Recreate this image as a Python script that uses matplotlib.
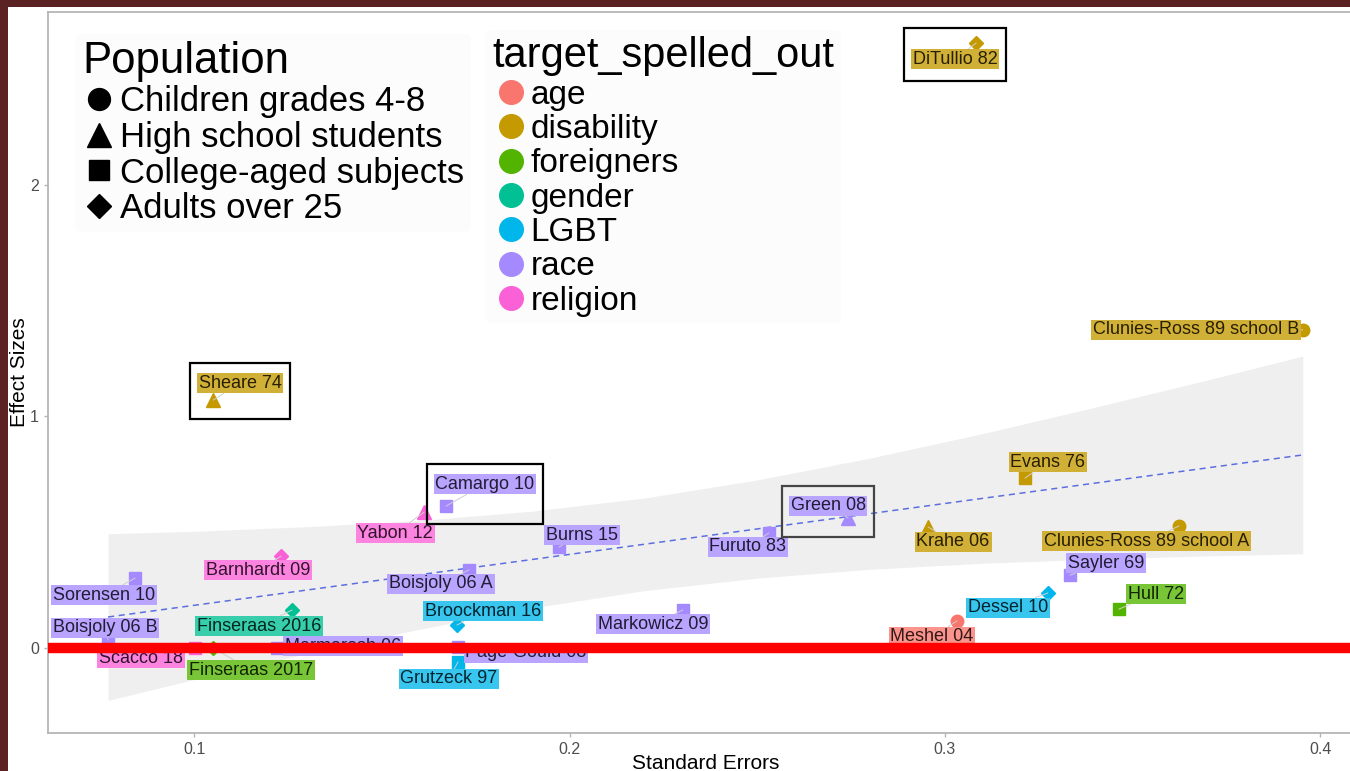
import matplotlib.pyplot as plt
from matplotlib.lines import Line2D
from matplotlib.patches import Rectangle
from matplotlib.transforms import IdentityTransform
from matplotlib.colors import to_rgb
import numpy as np

plt.rcParams['font.family'] = ['Liberation Sans', 'DejaVu Sans']

# study data
studies = ["DiTullio 82", "Clunies-Ross 89 school B", "Sheare 74", "Camargo 10",
           "Yabon 12", "Burns 15", "Boisjoly 06 A", "Barnhardt 09", "Sorensen 10",
           "Finseraas 2016", "Boisjoly 06 B", "Scacco 18", "Finseraas 2017",
           "Marmarosh 06", "Page-Gould 08", "Broockman 16", "Grutzeck 97",
           "Markowicz 09", "Furuto 83", "Green 08", "Evans 76", "Krahe 06",
           "Clunies-Ross 89 school A", "Sayler 69", "Dessel 10", "Hull 72", "Meshel 04"]
std_err = [0.3083, 0.3953, 0.1051, 0.1671, 0.1613, 0.1972, 0.1732, 0.1232, 0.0843,
           0.1261, 0.0771, 0.1003, 0.1051, 0.1221, 0.1703, 0.1700, 0.1703, 0.2302,
           0.2531, 0.2742, 0.3213, 0.2955, 0.3623, 0.3333, 0.3274, 0.3463, 0.3032]
effect = [2.613, 1.374, 1.071, 0.613, 0.587, 0.436, 0.337, 0.397, 0.302,
          0.164, 0.035, 0.0, 0.0, 0.0, 0.005, 0.099, -0.060, 0.164,
          0.497, 0.562, 0.734, 0.523, 0.527, 0.315, 0.238, 0.168, 0.117]
target = ["disability", "disability", "disability", "race", "religion", "race", "race",
          "religion", "race", "gender", "race", "religion", "foreigners", "race", "race",
          "LGBT", "LGBT", "race", "race", "race", "disability", "disability",
          "disability", "race", "LGBT", "foreigners", "age"]
population = ["Adults over 25", "Children grades 4-8", "High school students",
              "College-aged subjects", "High school students", "College-aged subjects",
              "College-aged subjects", "Adults over 25", "College-aged subjects",
              "Adults over 25", "College-aged subjects", "College-aged subjects",
              "Adults over 25", "College-aged subjects", "College-aged subjects",
              "Adults over 25", "College-aged subjects", "College-aged subjects",
              "College-aged subjects", "High school students", "College-aged subjects",
              "High school students", "Children grades 4-8", "College-aged subjects",
              "Adults over 25", "College-aged subjects", "Children grades 4-8"]
highlighted = ["DiTullio 82", "Sheare 74", "Camargo 10", "Green 08"]

# fitted line and its confidence band
fit_x = [0.0771, 0.3953]
fit_y = [0.134, 0.834]
band_x = [0.0771, 0.10, 0.13, 0.16, 0.19, 0.22, 0.25, 0.28, 0.31, 0.34, 0.37, 0.3953]
band_lo = [-0.226, -0.136, -0.024, 0.081, 0.173, 0.248, 0.302, 0.340, 0.366, 0.384, 0.398, 0.407]
band_hi = [0.494, 0.504, 0.524, 0.551, 0.591, 0.648, 0.726, 0.820, 0.926, 1.040, 1.158, 1.261]

targets = ["age", "disability", "foreigners", "gender", "LGBT", "race", "religion"]
target_colors = ["#F8766D", "#C49A00", "#53B400", "#00C094", "#00B6EB", "#A58AFF", "#FB61D7"]
pops = ["Children grades 4-8", "High school students", "College-aged subjects", "Adults over 25"]
pop_markers = ["o", "^", "s", "D"]
pop_sizes = [9, 10, 8.5, 7]

# label offsets from the point, pixels
label_off = {
    "DiTullio 82": (-21, -16), "Clunies-Ross 89 school B": (-107, 0), "Sheare 74": (27, 17),
    "Camargo 10": (39, 22), "Yabon 12": (-29, -21), "Burns 15": (23, 12),
    "Boisjoly 06 A": (-28, -14), "Barnhardt 09": (-23, -14), "Sorensen 10": (-31, -17),
    "Finseraas 2016": (-33, -16), "Boisjoly 06 B": (-3, 12), "Scacco 18": (-54, -10),
    "Finseraas 2017": (38, -22), "Marmarosh 06": (66, 2), "Page-Gould 08": (68, -6),
    "Broockman 16": (26, 14), "Grutzeck 97": (-9, -17), "Markowicz 09": (-30, -14),
    "Furuto 83": (-21, -14), "Green 08": (-20, 12), "Evans 76": (23, 16),
    "Krahe 06": (25, -15), "Clunies-Ross 89 school A": (-32, -15), "Sayler 69": (36, 12),
    "Dessel 10": (-40, -15), "Hull 72": (37, 15), "Meshel 04": (-25, -16),
}

W, H = 1350, 771
fig = plt.figure(figsize=(W / 100, H / 100), dpi=100, facecolor="#5a2222")
fig.patches.append(Rectangle((8 / W, 0), 1, 1 - 7 / H, transform=fig.transFigure,
                             facecolor="white", edgecolor="none", zorder=-5))
ax = fig.add_axes([48 / W, 38 / H, (1364 - 48) / W, (733 - 12) / H])
ax.set_xlim(0.0611, 0.4116)
ax.set_ylim(-0.367, 2.747)

ax.fill_between(band_x, band_lo, band_hi, color="#efefef", lw=0, zorder=1)
ax.plot(fit_x, fit_y, ls=(0, (4, 3)), color="#5b6fe0", lw=1.1, zorder=2)


def blend(c, other, t):
    c = np.array(to_rgb(c))
    o = np.array(to_rgb(other))
    return tuple(c * (1 - t) + o * t)


anns = {}
for name, x, y, t, p in zip(studies, std_err, effect, target, population):
    col = target_colors[targets.index(t)]
    k = pops.index(p)
    ax.plot(x, y, marker=pop_markers[k], ms=pop_sizes[k], color=col, mec=col, ls="none", zorder=4)
    dx, dy = label_off[name]
    a = ax.annotate(name, (x, y), xytext=(dx, dy), textcoords="offset pixels",
                    ha="center", va="center", fontsize=13, color=blend(col, "black", 0.8),
                    bbox=dict(boxstyle="square,pad=0.1", fc=blend(col, "white", 0.22), ec="none"),
                    arrowprops=dict(arrowstyle="-", color="#cfcfcf", lw=0.7, shrinkA=0, shrinkB=0),
                    zorder=5)
    anns[name] = (a, x, y, pop_sizes[k])

ax.axhline(0, color="#ff0000", lw=7.5, zorder=8)

for s in ax.spines.values():
    s.set_color("#b5b5b5")
    s.set_linewidth(1.3)
ax.set_xticks([0.1, 0.2, 0.3, 0.4])
ax.set_xticklabels(["0.1", "0.2", "0.3", "0.4"])
ax.set_yticks([0, 1, 2])
ax.tick_params(colors="#b5b5b5", labelcolor="#4d4d4d", labelsize=11.5, length=3, width=1)
ax.set_xlabel("Standard Errors", fontsize=15, labelpad=-2)
ax.set_ylabel("Effect Sizes", fontsize=15, labelpad=1)

# legends
h1 = [Line2D([], [], marker=m, color="black", ls="none", ms=s * 1.75) for m, s in zip(pop_markers, pop_sizes)]
leg1 = ax.legend(h1, pops, title="Population", loc="upper left",
                 bbox_to_anchor=(58 / W, 1 - 17 / H), bbox_transform=fig.transFigure,
                 fontsize=25, title_fontsize=31.5, alignment="left", labelspacing=0.08,
                 handlelength=0.98, handletextpad=0.1, borderpad=0.2,
                 frameon=True, facecolor="#fcfcfc", edgecolor="none", framealpha=1)
ax.add_artist(leg1)
h2 = [Line2D([], [], marker="o", color=c, ls="none", ms=17) for c in target_colors]
leg2 = ax.legend(h2, targets, title="target_spelled_out", loc="upper left",
                 bbox_to_anchor=(469 / W, 1 - 13 / H), bbox_transform=fig.transFigure,
                 fontsize=24, title_fontsize=30, alignment="left", labelspacing=0.1,
                 handlelength=1.14, handletextpad=0.0, borderpad=0.2,
                 frameon=True, facecolor="#fcfcfc", edgecolor="none", framealpha=1)

# boxes round the highlighted studies
fig.canvas.draw()
r = fig.canvas.get_renderer()
for name in highlighted:
    a, x, y, ms = anns[name]
    bb = a.get_bbox_patch().get_window_extent(r)
    px, py = ax.transData.transform((x, y))
    half = ms * 100 / 72 / 2
    x0 = min(bb.x0, px - half) - 7
    x1 = max(bb.x1, px + half) + 7
    y0 = min(bb.y0, py - half) - 12
    y1 = max(bb.y1, py + half) + 10
    ec = "#444444" if name == "Green 08" else "black"
    fig.patches.append(Rectangle((x0, y0), x1 - x0, y1 - y0, transform=IdentityTransform(),
                                 fill=False, ec=ec, lw=1.6, zorder=20))

fig.savefig("out.png", dpi=100, facecolor=fig.get_facecolor())
